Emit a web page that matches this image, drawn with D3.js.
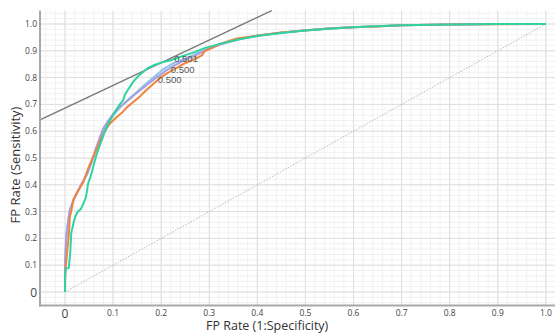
<!DOCTYPE html>
<html><head><meta charset="utf-8">
<script src="https://cdn.jsdelivr.net/npm/d3@7"></script>
<style>body{margin:0;background:#fff;}svg{display:block;font-family:"Open Sans",sans-serif;}</style>
</head><body><svg id="c" width="558" height="334"></svg>
<script>
// ---- data ----
const xTicks = [0,0.1,0.2,0.3,0.4,0.5,0.6,0.7,0.8,0.9,1.0];
const yTicks = [0,0.1,0.2,0.3,0.4,0.5,0.6,0.7,0.8,0.9,1.0];
const seriesNames = ["blue","purple","orange","teal"];
const seriesColors = ["#8cc3e8","#a79fe0","#f0843f","#2fd3a2"];
const blueCurve = [[0,0],[0,0.09],[0.002,0.17],[0.004,0.225],[0.007,0.27],[0.011,0.31],[0.016,0.335],[0.022,0.36],[0.028,0.38],[0.034,0.4],[0.04,0.42],[0.047,0.445],[0.054,0.475],[0.06,0.505],[0.067,0.54],[0.074,0.575],[0.082,0.61],[0.092,0.64],[0.103,0.665],[0.115,0.69],[0.128,0.712],[0.14,0.732],[0.153,0.752],[0.167,0.775],[0.18,0.795],[0.19,0.81],[0.2,0.825],[0.212,0.84],[0.225,0.853],[0.24,0.864],[0.255,0.874],[0.27,0.886],[0.29,0.902],[0.32,0.922],[0.36,0.943],[0.4,0.957],[0.45,0.968],[0.5,0.977],[0.55,0.984],[0.6,0.989],[0.65,0.992],[0.7,0.995],[0.8,0.998],[0.9,1.0],[1.0,1.0]];
const purpleCurve = [[0,0],[0,0.1],[0.001,0.157],[0.003,0.219],[0.006,0.26],[0.01,0.306],[0.015,0.33],[0.021,0.356],[0.026,0.375],[0.031,0.393],[0.038,0.415],[0.045,0.437],[0.052,0.47],[0.059,0.505],[0.065,0.54],[0.072,0.575],[0.08,0.612],[0.09,0.64],[0.1,0.664],[0.112,0.687],[0.125,0.706],[0.137,0.724],[0.149,0.743],[0.163,0.762],[0.177,0.782],[0.188,0.798],[0.198,0.81],[0.21,0.826],[0.222,0.84],[0.235,0.852],[0.25,0.866],[0.27,0.882],[0.29,0.9],[0.32,0.922],[0.36,0.942],[0.4,0.957],[0.45,0.967],[0.5,0.977],[0.55,0.983],[0.6,0.988],[0.65,0.992],[0.7,0.995],[0.8,0.998],[0.9,1.0],[1.0,1.0]];
const orangeCurve = [[0,0],[0.001,0.08],[0.003,0.12],[0.005,0.16],[0.007,0.194],[0.009,0.24],[0.01,0.28],[0.014,0.31],[0.017,0.343],[0.022,0.36],[0.028,0.38],[0.033,0.395],[0.038,0.41],[0.043,0.435],[0.048,0.46],[0.055,0.49],[0.062,0.52],[0.066,0.535],[0.073,0.565],[0.08,0.59],[0.087,0.612],[0.094,0.63],[0.107,0.652],[0.12,0.672],[0.128,0.688],[0.144,0.712],[0.156,0.73],[0.166,0.748],[0.177,0.766],[0.19,0.786],[0.2,0.802],[0.211,0.815],[0.222,0.826],[0.232,0.836],[0.245,0.849],[0.26,0.862],[0.275,0.874],[0.285,0.884],[0.29,0.898],[0.305,0.91],[0.322,0.926],[0.357,0.946],[0.4,0.956],[0.45,0.968],[0.5,0.976],[0.55,0.983],[0.6,0.988],[0.65,0.991],[0.7,0.995],[0.8,0.998],[0.9,0.999],[1.0,1.0]];
const tealCurve = [[0,0],[0,0.06],[0.002,0.088],[0.008,0.09],[0.011,0.15],[0.013,0.22],[0.018,0.26],[0.022,0.285],[0.027,0.3],[0.033,0.31],[0.038,0.33],[0.043,0.35],[0.046,0.38],[0.048,0.405],[0.053,0.43],[0.057,0.455],[0.062,0.49],[0.066,0.515],[0.072,0.545],[0.078,0.575],[0.083,0.6],[0.09,0.628],[0.1,0.66],[0.107,0.682],[0.114,0.7],[0.121,0.716],[0.125,0.738],[0.133,0.76],[0.142,0.785],[0.152,0.805],[0.163,0.822],[0.172,0.835],[0.183,0.845],[0.194,0.852],[0.204,0.858],[0.218,0.864],[0.232,0.872],[0.25,0.884],[0.27,0.895],[0.29,0.91],[0.32,0.925],[0.36,0.942],[0.4,0.955],[0.45,0.966],[0.5,0.976],[0.55,0.982],[0.6,0.988],[0.65,0.992],[0.7,0.995],[0.8,0.998],[0.9,1.0],[1.0,1.0]];
const thresholdLabels = ["0.501","0.500","0.500"];
const thresholdX = [0.227,0.22,0.193];
const thresholdY = [0.857,0.818,0.779];
const tangentIntercept = 0.686;
const tangentSlope = 0.847;
const xTitle = "FP Rate (1:Specificity)";
const yTitle = "FP Rate (Sensitivity)";

// ---- drawing ----
const svg = d3.select("#c");
const x = d3.scaleLinear().domain([-0.052, 1.019]).range([40, 555]);
const y = d3.scaleLinear().domain([-0.05, 1.05]).range([305.4, 10.6]);
const [x0,x1] = x.domain(), [y0,y1] = y.domain();

const g = svg.append("g");
g.selectAll(".mx").data(d3.range(-0.04, 1.02, 0.02)).join("line")
  .attr("x1", d=>x(d)).attr("x2", d=>x(d)).attr("y1", y(y0)).attr("y2", y(y1))
  .attr("stroke", "#f1f1f1").attr("stroke-width", 1);
g.selectAll(".my").data(d3.range(-0.04, 1.05, 0.02)).join("line")
  .attr("y1", d=>y(d)).attr("y2", d=>y(d)).attr("x1", x(x0)).attr("x2", x(x1))
  .attr("stroke", "#f1f1f1").attr("stroke-width", 1);
g.selectAll(".Mx").data(xTicks).join("line")
  .attr("x1", d=>x(d)).attr("x2", d=>x(d)).attr("y1", y(y0)).attr("y2", y(y1))
  .attr("stroke", "#dedede").attr("stroke-width", 1);
g.selectAll(".My").data(yTicks).join("line")
  .attr("y1", d=>y(d)).attr("y2", d=>y(d)).attr("x1", x(x0)).attr("x2", x(x1))
  .attr("stroke", "#dedede").attr("stroke-width", 1);

// diagonal
svg.append("line").attr("x1", x(0)).attr("y1", y(0)).attr("x2", x(1)).attr("y2", y(1))
  .attr("stroke", "#b8b8b8").attr("stroke-width", 1).attr("stroke-dasharray", "1.5,1.5");

// tangent
const tx1 = (y1 - tangentIntercept) / tangentSlope;
svg.append("line").attr("x1", x(x0)).attr("y1", y(tangentIntercept + tangentSlope*x0))
  .attr("x2", x(tx1)).attr("y2", y(y1))
  .attr("stroke", "#777").attr("stroke-width", 1.3);

// curves
const curves = [blueCurve, purpleCurve, orangeCurve, tealCurve];
const line = d3.line().x(d=>x(d[0])).y(d=>y(d[1]));
curves.forEach((c,i)=>{
  svg.append("path").datum(c).attr("d", line).attr("fill","none")
    .attr("stroke", seriesColors[i]).attr("stroke-width", 2).attr("stroke-linejoin","round")
    .attr("class", seriesNames[i]);
});

// threshold labels
thresholdLabels.forEach((t,i)=>{
  svg.append("text").attr("x", x(thresholdX[i])).attr("y", y(thresholdY[i]))
    .attr("font-family", "'Liberation Sans', sans-serif")
    .attr("font-size", 9.5).attr("fill", "#555").text(t);
});

// axes lines
svg.append("line").attr("x1", x(x0)).attr("x2", x(x0)).attr("y1", y(y1)).attr("y2", y(y0)+1)
  .attr("stroke", "#a8a8a8").attr("stroke-width", 2);
svg.append("line").attr("x1", x(x0)-1).attr("x2", x(x1)).attr("y1", y(y0)).attr("y2", y(y0))
  .attr("stroke", "#a8a8a8").attr("stroke-width", 2);

// tick labels
svg.selectAll(".xt").data(xTicks).join("text")
  .attr("x", d=>x(d)).attr("y", d=> d===0 ? 318 : 316)
  .attr("text-anchor","middle").attr("font-size", d=> d===0 ? 12 : 8.5).attr("fill","#444")
  .text(d=> d===0 ? "0" : d3.format(".1f")(d));
svg.selectAll(".yt").data(yTicks).join("text")
  .attr("x", 37).attr("y", d=>y(d)).attr("dy", d=> d===0 ? "0.38em" : "0.35em")
  .attr("text-anchor","end").attr("font-size", d=> d===0 ? 12 : 8.5).attr("fill","#444")
  .text(d=> d===0 ? "0" : d3.format(".1f")(d));

// titles
svg.append("text").attr("x", 206).attr("y", 330).attr("font-size", 12.5).attr("fill","#333").text(xTitle);
svg.append("text").attr("transform","translate(20,165) rotate(-90)").attr("text-anchor","middle")
  .attr("font-size", 13).attr("fill","#333").text(yTitle);
</script></body></html>
